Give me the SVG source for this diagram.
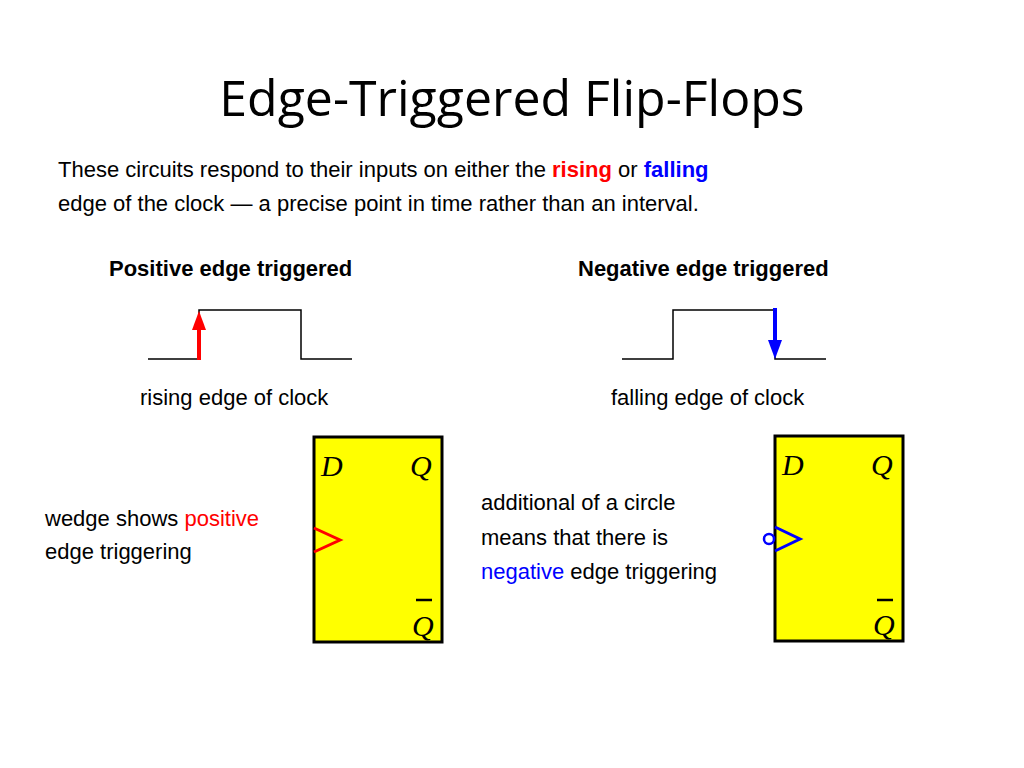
<svg xmlns="http://www.w3.org/2000/svg" width="1024" height="768" viewBox="0 0 1024 768">
<style>
.t{font-family:"Liberation Sans",Arial,sans-serif;font-size:22px;fill:#000}
.b{font-weight:bold}
.ff{fill:#ffff00;stroke:#000;stroke-width:3}
.w{fill:none;stroke:#000;stroke-width:1.5}
.s{font-family:"Liberation Serif","Times New Roman",serif;font-style:italic;font-size:30px;fill:#000}
</style>
<defs>
<marker id="ar" markerWidth="8" markerHeight="8" refX="4" refY="4" orient="auto" markerUnits="userSpaceOnUse"><path d="M0,0 L8,4 L0,8 Z" fill="#f00"/></marker>
</defs>
<rect width="1024" height="768" fill="#fff"/>
<text x="512" y="116" text-anchor="middle" font-family="Open Sans, Liberation Sans, sans-serif" font-size="50" fill="#000">Edge-Triggered Flip-Flops</text>
<text class="t" x="58" y="177">These circuits respond to their inputs on either the <tspan class="b" fill="#f00">rising</tspan> or <tspan class="b" fill="#0000ff">falling</tspan></text>
<text class="t" x="58" y="211">edge of the clock — a precise point in time rather than an interval.</text>
<text class="t b" x="109" y="276" fill="#f00">Positive edge triggered</text>
<text class="t b" x="578" y="276" fill="#0000ff">Negative edge triggered</text>
<g id="clk-pos">
<path class="w" d="M148,359 H199 V310 H301 V359 H352"/>
<line x1="199" y1="360" x2="199" y2="318" stroke="#f00" stroke-width="4"/>
<path d="M192,330 L199,311 L206,330 Z" fill="#f00"/>
</g>
<g id="clk-neg">
<path class="w" d="M622,359 H673 V310 H775 V359 H826"/>
<line x1="775" y1="308" x2="775" y2="345" stroke="#0000ff" stroke-width="4"/>
<path d="M768,340 L775,359 L782,340 Z" fill="#0000ff"/>
</g>
<text class="t" x="140" y="405">rising edge of clock</text>
<text class="t" x="611" y="405">falling edge of clock</text>
<g id="ff-pos">
<rect class="ff" x="314" y="437" width="128" height="205"/>
<text class="s" x="321" y="476">D</text>
<text class="s" x="410" y="476">Q</text>
<line x1="416" y1="600" x2="432" y2="600" stroke="#000" stroke-width="2.5"/>
<text class="s" x="412" y="636">Q</text>
<path d="M314,528 L340,540 L314,552" fill="none" stroke="#f00" stroke-width="3"/>
</g>
<g id="ff-neg">
<rect class="ff" x="775" y="436" width="128" height="205"/>
<text class="s" x="782" y="475">D</text>
<text class="s" x="871" y="475">Q</text>
<line x1="877" y1="600" x2="893" y2="600" stroke="#000" stroke-width="2.5"/>
<text class="s" x="873" y="635">Q</text>
<path d="M775,527 L800,539 L775,551" fill="none" stroke="#0000ff" stroke-width="3"/>
<circle cx="769" cy="539" r="5" fill="#fff" stroke="#0000ff" stroke-width="2.5"/>
</g>
<text class="t" x="45" y="526">wedge shows <tspan fill="#f00">positive</tspan></text>
<text class="t" x="45" y="559">edge triggering</text>
<text class="t" x="481" y="510">additional of a circle</text>
<text class="t" x="481" y="545">means that there is</text>
<text class="t" x="481" y="579"><tspan fill="#0000ff">negative</tspan> edge triggering</text>
</svg>
